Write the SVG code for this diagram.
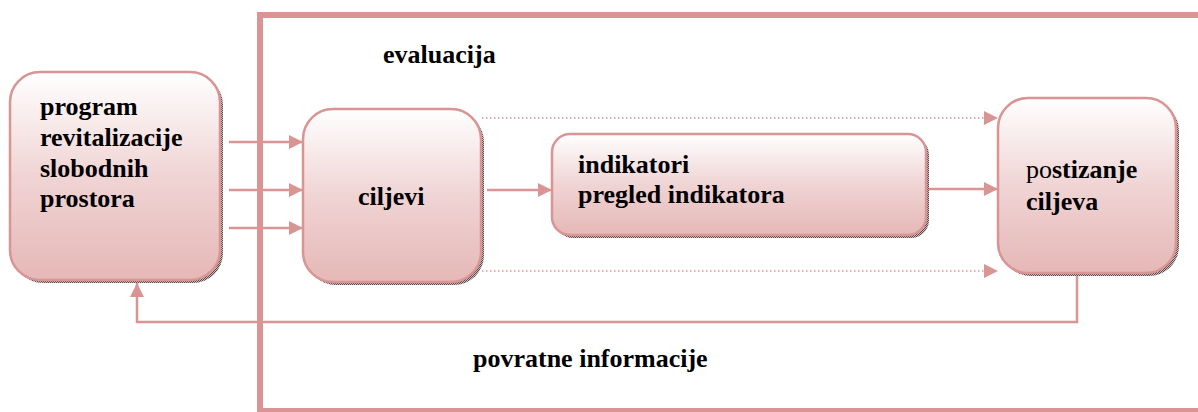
<svg xmlns="http://www.w3.org/2000/svg" width="1198" height="412" viewBox="0 0 1198 412">
<defs>
<linearGradient id="g" x1="0" y1="0" x2="0" y2="1">
<stop offset="0" stop-color="#FFFFFF"/>
<stop offset="0.5" stop-color="#F0D4D4"/>
<stop offset="1" stop-color="#E5B8B7"/>
</linearGradient>
<pattern id="sh" width="2" height="2" patternUnits="userSpaceOnUse">
<rect width="2" height="2" fill="#c8b8b8"/>
<rect width="1" height="1" fill="#5a4a4a"/>
<rect x="1" y="1" width="1" height="1" fill="#5a4a4a"/>
</pattern>
<marker id="ah" markerUnits="userSpaceOnUse" markerWidth="14" markerHeight="14" refX="14" refY="7" orient="auto">
<path d="M0,0 L14,7 L0,14 z" fill="#D99594"/>
</marker>
</defs>
<style>
.box{fill:url(#g);stroke:#D99594;stroke-width:2.5}
.shadow{fill:url(#sh)}
.t{font-size:26px;font-weight:bold;fill:#000}
.c{stroke:#D99594;stroke-width:2.5;fill:none}
.d{stroke:#D99594;stroke-width:1.5;fill:none;stroke-dasharray:1.5 2.5}
</style>
<g font-family="'Liberation Serif', 'Times New Roman', 'DejaVu Serif', serif">
<g id="frame">
<rect x="260" y="15" width="1000" height="396" fill="none" stroke="#D99594" stroke-width="6"/>
<text class="t" x="383" y="63">evaluacija</text>
</g>
<g id="connectors">
<line class="c" x1="229" y1="142" x2="303" y2="142" marker-end="url(#ah)"/>
<line class="c" x1="229" y1="190" x2="303" y2="190" marker-end="url(#ah)"/>
<line class="c" x1="229" y1="228" x2="303" y2="228" marker-end="url(#ah)"/>
<line class="c" x1="487" y1="190" x2="552" y2="190" marker-end="url(#ah)"/>
<line class="c" x1="927" y1="189" x2="998" y2="189" marker-end="url(#ah)"/>
<line class="d" x1="482" y1="118" x2="998" y2="118" marker-end="url(#ah)"/>
<line class="d" x1="482" y1="271" x2="998" y2="271" marker-end="url(#ah)"/>
<polyline class="c" points="1077,276 1077,322 137,322 137,283" marker-end="url(#ah)"/>
<text class="t" x="473" y="367">povratne informacije</text>
</g>
<g id="program">
<rect class="shadow" x="13" y="75" width="210" height="208" rx="30"/>
<rect class="box" x="10" y="72" width="210" height="208" rx="30"/>
<text class="t" x="40" y="115">program</text>
<text class="t" x="40" y="146">revitalizacije</text>
<text class="t" x="40" y="177">slobodnih</text>
<text class="t" x="40" y="207">prostora</text>
</g>
<g id="ciljevi">
<rect class="shadow" x="306" y="112" width="178" height="173" rx="30"/>
<rect class="box" x="303" y="109" width="178" height="173" rx="30"/>
<text class="t" x="358" y="205">ciljevi</text>
</g>
<g id="indikatori">
<rect class="shadow" x="555" y="137" width="374" height="101" rx="18"/>
<rect class="box" x="552" y="134" width="374" height="101" rx="18"/>
<text class="t" x="578" y="173">indikatori</text>
<text class="t" x="578" y="203">pregled indikatora</text>
</g>
<g id="postizanje">
<rect class="shadow" x="1001" y="101" width="178" height="175" rx="30"/>
<rect class="box" x="998" y="98" width="178" height="175" rx="30"/>
<text class="t" x="1026" y="178"><tspan font-weight="normal">po</tspan>stizanje</text>
<text class="t" x="1026" y="210">ciljeva</text>
</g>
</g>
</svg>
